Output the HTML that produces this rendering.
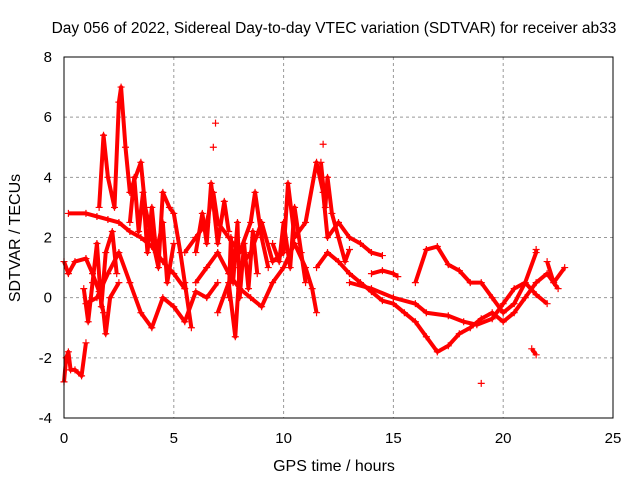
<!DOCTYPE html>
<html><head><meta charset="utf-8"><style>
body{margin:0;background:#fff}
svg{display:block;font-family:"Liberation Sans",sans-serif}
</style></head><body>
<svg id="c" width="640" height="480">
<text x="334" y="33" font-size="15.5" text-anchor="middle">Day 056 of 2022, Sidereal Day-to-day VTEC variation (SDTVAR) for receiver ab33</text>
<g id="grid"></g>
<g id="marks"></g>
<rect x="64" y="57" width="549" height="361" fill="none" stroke="#000"/>
<g id="axes"></g>
<text x="334" y="471" font-size="16" text-anchor="middle">GPS time / hours</text>
<text transform="translate(20,238) rotate(-90)" font-size="16" text-anchor="middle">SDTVAR / TECUs</text>
</svg>
<script>
const xTicks=[0,5,10,15,20,25];
const yTicks=[-4,-2,0,2,4,6,8];
const trackA=[[0.2,2.8],[1,2.8],[1.5,2.7],[2,2.6],[2.5,2.5],[3,2.2],[3.5,2.0],[4,1.7],[4.5,1.2],[5,0.8],[5.5,0.3]];
const trackB=[[0,-2.8],[0.1,-2.0],[0.2,-1.8],[0.3,-2.4],[0.5,-2.4],[0.8,-2.6],[1,-1.5]];
const trackC=[[0,1.2],[0.2,0.8],[0.5,1.2],[1,1.3],[1.3,0.8],[1.6,0.2],[1.8,-0.5],[1.9,-1.2],[2.1,0],[2.5,0.5]];
const trackD=[[1.6,3],[1.8,5.4],[2.0,4],[2.3,3],[2.5,6.5],[2.6,7],[2.8,5],[3,3.5],[3.5,4.5],[3.7,3],[4,2],[4.3,1],[4.5,3.5],[4.8,3],[5,2.8],[5.3,1.5],[5.5,0.5],[5.8,-1]];
const trackE=[[1,-0.2],[1.5,0],[2,0.8],[2.5,1.5],[3,0.5],[3.5,-0.5],[4,-1],[4.5,0],[5,-0.3],[5.5,-0.8],[6,0.2],[6.5,0],[7,0.5]];
const trackF=[[5.5,1.5],[6,2],[6.5,2.5],[6.8,3.5],[7,2.5],[7.5,2],[8,1.5],[8.5,2.5],[8.7,3.5],[9,2],[9.3,1]];
const trackG=[[6,0.5],[6.5,1],[7,1.5],[7.5,0.8],[8,0.3],[8.5,0],[9,-0.3],[9.5,0.5],[10,1],[10.5,1.8],[11,1],[11.3,0.3],[11.5,-0.5]];
const trackH=[[7,-0.5],[7.5,0.5],[7.8,-1.3],[8,1],[8.5,1.5],[9,2.5],[9.5,1.2],[10,1.5],[10.2,3.8],[10.5,2],[11,2.5],[11.5,4.5],[11.8,3.5],[12,2],[12.5,2.5],[13,2],[13.5,1.8],[14,1.5],[14.5,1.4]];
const trackI=[[11.5,1],[12,1.5],[12.5,1.2],[13,0.8],[13.5,0.5],[14,0.2],[14.5,-0.1],[15,-0.2],[15.5,-0.5],[16,-0.8],[16.5,-1.3],[17,-1.8],[17.5,-1.6],[18,-1.2],[18.5,-1],[19,-0.7],[19.5,-0.5],[20,-0.8],[20.5,-0.5],[21,0],[21.5,0.5],[22,0.8],[22.5,0.3]];
const trackJ=[[14,0.8],[14.5,0.9],[15,0.8],[15.2,0.7]];
const trackK=[[16,0.5],[16.5,1.6],[17,1.7],[17.5,1.1],[18,0.9],[18.5,0.5],[19,0.5],[19.5,0],[20,-0.5],[20.5,-0.2],[21,0.5],[21.5,1.5],[21.5,1.6]];
const trackL=[[13,0.5],[14,0.3],[15,0],[16,-0.2],[16.5,-0.5],[17.5,-0.6],[18.2,-0.8],[18.8,-0.9],[19.5,-0.7],[20,-0.2],[20.5,0.3],[21,0.5],[21.5,0.1],[22,-0.2]];
const trackM=[[21.3,-1.7],[21.5,-1.9]];
const trackN=[[22,1.2],[22.3,0.5],[22.8,1]];
const trackP=[[7.5,0],[7.6,2],[7.7,0.5],[7.9,2.5],[8,0],[8.2,1.8],[8.4,0.3],[8.6,2.2],[8.8,0.8]];
const trackQ=[[6,1.5],[6.3,2.8],[6.5,1.8],[6.7,3.8],[7,1.8],[7.3,3.2],[7.5,2.2]];
const trackR=[[9.5,1.8],[9.8,1.2],[10,2.5],[10.3,1.0],[10.5,3.0],[10.8,1.5],[11,0.5]];
const trackS=[[11.7,4.5],[11.9,3],[12,4],[12.2,2.8],[12.5,2],[12.8,1.2],[13,1.6]];
const trackT=[[3,2.5],[3.2,4],[3.4,2.2],[3.6,3.5],[3.8,1.5],[4,3],[4.2,1.5],[4.5,2.5],[4.7,0.5],[5,1.8]];
const trackU=[[0.9,0.3],[1.1,-0.8],[1.3,0.5],[1.5,1.8],[1.7,-0.3],[1.9,1.5],[2.2,2.2],[2.4,0.8]];
const outliers=[[19,-2.85],[6.9,5.8],[6.8,5],[11.8,5.1]];
const tracks=[trackA,trackB,trackC,trackD,trackE,trackF,trackG,trackH,trackI,trackJ,trackK,trackL,trackM,trackN,trackP,trackQ,trackR,trackS,trackT,trackU];
const X0=64,X1=613,Y0=418,Y1=57;
const sx=v=>X0+(v-0)/(25-0)*(X1-X0);
const sy=v=>Y0-(v+4)/12*(Y0-Y1);
const NS="http://www.w3.org/2000/svg";
const g=document.getElementById('grid'),ax=document.getElementById('axes'),mk=document.getElementById('marks');
function mkEl(t,a,p){const e=document.createElementNS(NS,t);for(const k in a)e.setAttribute(k,a[k]);p.appendChild(e);return e;}
xTicks.forEach(t=>{const x=sx(t);
 if(t>0&&t<25){const l=mkEl('line',{x1:x,x2:x,y1:Y1,y2:Y0,stroke:'#999','stroke-dasharray':'3,3'},g);}
 const tx=mkEl('text',{x:x,y:443,'font-size':15,'text-anchor':'middle'},ax);tx.textContent=t;
 });
yTicks.forEach(t=>{const y=sy(t);
 if(t>-4&&t<8){const l=mkEl('line',{x1:X0,x2:X1,y1:y,y2:y,stroke:'#999','stroke-dasharray':'3,3'},g);}
 const tx=mkEl('text',{x:52,y:y+5,'font-size':15,'text-anchor':'end'},ax);tx.textContent=t;
 });
function plus(x,y){const p=mkEl('path',{d:`M${x-3.5},${y}h7M${x},${y-3.5}v7`,stroke:'#f00','stroke-width':1.2},mk);
 }
tracks.forEach(tr=>{
 const pl=mkEl('polyline',{points:tr.map(d=>sx(d[0])+','+sy(d[1])).join(' '),fill:'none',stroke:'#f00','stroke-width':4,'stroke-linejoin':'round'},mk);
 
 tr.forEach(d=>plus(sx(d[0]),sy(d[1])));
});
outliers.forEach(d=>plus(sx(d[0]),sy(d[1])));
</script>
</body></html>
